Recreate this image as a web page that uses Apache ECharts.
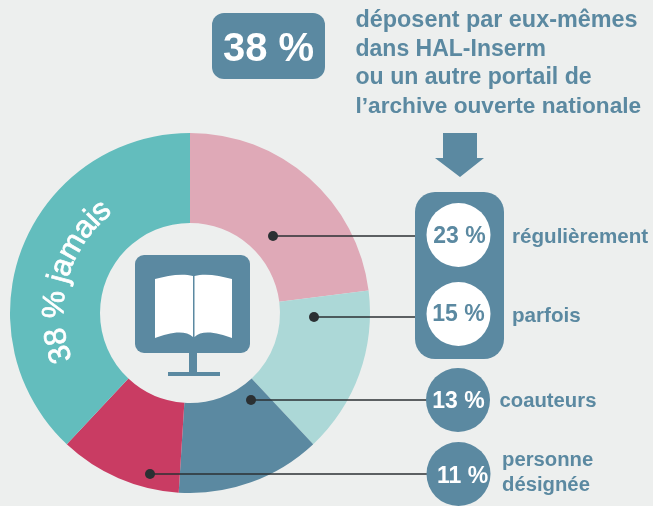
<!DOCTYPE html>
<html><head><meta charset="utf-8">
<style>html,body{margin:0;padding:0;background:#edefee}#c{width:653px;height:506px}</style>
<script src="https://cdn.jsdelivr.net/npm/echarts@6/dist/echarts.min.js"></script>
</head><body><div id="c"></div>
<script>
const categories = ['régulièrement','parfois','coauteurs','personne désignée','jamais'];
const values = [23,15,13,11,38];
const colors = ['#dfa9b7','#acd8d7','#5b89a1','#c93c63','#63bdbd'];
const headline = '38 %';
const headlineLines = ['déposent par eux-mêmes','dans HAL-Inserm','ou un autre portail de','l’archive ouverte nationale'];
const ringLabel = '38 % jamais';
const BLUE = '#5b89a1', FONT = '"Liberation Sans", Arial, sans-serif', INK = '#2b3033';

const el = document.getElementById('c');
const chart = echarts.init(el, null, {renderer:'canvas', width:653, height:506});
echarts.graphic.registerShape('bookPages', echarts.graphic.extendPath('M155 279 C167 276 181 273 193 276 L193 337 C185 329 168 333 155 338 Z M232 279 C220 276 206 273 194.5 276 L194.5 337 C202 329 219 333 232 338 Z'));
const g = [];
const MID = 0.26;
const txt = (x,y,s,size,fill,opt={}) => g.push({type:'text',x,y:y-MID*size,silent:true,z:30,style:Object.assign({text:s,fill,font:`${opt.weight||'bold'} ${size}px ${FONT}`,textAlign:opt.align||'left',textVerticalAlign:'middle',verticalAlign:'middle'},opt.style||{})});
const rrect = (x,y,w,h,r,fill=BLUE) => g.push({type:'rect',silent:true,z:10,shape:{x,y,width:w,height:h,r},style:{fill}});
const circ = (cx,cy,r,fill) => g.push({type:'circle',silent:true,z:12,shape:{cx,cy,r},style:{fill}});

// header
rrect(212,13,113,66,12);
txt(268.5,60,headline,40,'#fff',{align:'center',weight:'bold'});
headlineLines.forEach((s,i)=>txt(355.5,[27,56,84,113][i],s,[23.4,23,23.1,22.65][i],BLUE));
g.push({type:'polygon',silent:true,z:10,shape:{points:[[443,133],[477,133],[477,158],[484,158],[460,177],[435,158],[443,158]]},style:{fill:BLUE}});

// leader lines and dots
[[273,236,420],[314,317,420],[251,400,430],[150,474,430]].forEach(([x,y,e])=>{
  g.push({type:'line',silent:true,z:8,shape:{x1:x,y1:y,x2:e,y2:y},style:{stroke:INK,lineWidth:1.3}});
  circ(x,y,5,INK);
});

// right panel
rrect(415,192,89,167,20);
circ(458.5,235,32,'#fff'); circ(458.5,314,32,'#fff');
circ(458,400,32,BLUE); circ(458.5,474,32,BLUE);
const pct = v => v+' %';
txt(459.5,243,pct(values[0]),23,BLUE,{align:'center'});
txt(458.5,321,pct(values[1]),23,BLUE,{align:'center'});
txt(458.5,408,pct(values[2]),23,'#fff',{align:'center'});
txt(462.5,483,pct(values[3]),23,'#fff',{align:'center'});
txt(512,243,categories[0],20.6,BLUE);
txt(512,322,categories[1],20.6,BLUE);
txt(499.5,407,categories[2],20.3,BLUE);
txt(502,466,'personne',20.3,BLUE);
txt(502,491,'désignée',20.3,BLUE);

// book icon
rrect(135,255,115,98,9);
rrect(189,352,8,21,0);
rrect(168,372,52,4,0);
g.push({type:'bookPages',silent:true,z:12,style:{fill:'#fff'}});

// curved ring label: one glyph at a time along a circle around the pie centre
const cv = document.createElement('canvas').getContext('2d');
const ringSize = 31;
const ringFont = `normal ${ringSize}px ${FONT}`;
cv.font = ringFont;
const R = 127, cx0 = 190, cy0 = 313, startDeg = 248.5;
const extra = -0.5;
let adv = 0;
[...ringLabel].forEach(ch=>{
  const w = cv.measureText(ch).width;
  const a = (startDeg + (adv + w/2)/R*180/Math.PI) * Math.PI/180;
  const r = R + MID*ringSize;
  g.push({type:'text',silent:true,z:30,x:cx0+r*Math.sin(a),y:cy0-r*Math.cos(a),rotation:-a,
    style:{text:ch,fill:'#fff',stroke:'#fff',lineWidth:0.7,font:ringFont,textAlign:'center',verticalAlign:'middle',textVerticalAlign:'middle'}});
  adv += w + extra;
});

chart.setOption({
  animation:false,
  backgroundColor:'#edefee',
  series:[{type:'pie',center:[190,313],radius:[90,180],startAngle:90,clockwise:true,silent:true,
    label:{show:false},labelLine:{show:false},
    data:categories.map((name,i)=>({name,value:values[i],itemStyle:{color:colors[i]}}))}],
  graphic:g
});
</script></body></html>
